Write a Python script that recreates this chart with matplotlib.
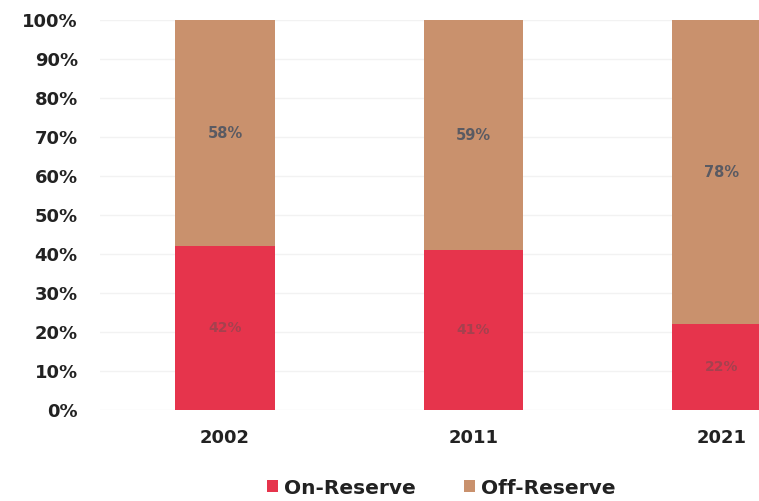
import matplotlib

matplotlib.use("Agg")
import matplotlib.pyplot as plt
import numpy as np

years = ["2002", "2011", "2021"]
on_reserve = [42, 41, 22]
off_reserve = [58, 59, 78]
y_ticks = [0, 10, 20, 30, 40, 50, 60, 70, 80, 90, 100]

RED = "#e6344c"
TAN = "#c9916d"
TEXT = "#222222"

plt.rcParams["font.family"] = ["DejaVu Sans"]

fig = plt.figure(figsize=(7.59, 5.01), dpi=100)
ax = fig.add_axes([100 / 759, 91 / 501, 659 / 759, 390 / 501])

x = np.arange(len(years))
width = 0.4
ax.bar(x, on_reserve, width=width, color=RED, label="On-Reserve", zorder=2)
ax.bar(x, off_reserve, width=width, bottom=on_reserve, color=TAN, label="Off-Reserve", zorder=2)

for i, (on, off) in enumerate(zip(on_reserve, off_reserve)):
    ax.text(i, on / 2, f"{on}%", ha="center", va="center", fontsize=10, fontweight="bold", color="#7a4a50", alpha=0.6, zorder=3)
    ax.text(i, on + off / 2, f"{off}%", ha="center", va="center", fontsize=10.5, fontweight="bold", color="#5a5a62", zorder=3)

ax.set_xlim(-0.503, 2.149)
ax.set_ylim(0, 100)
ax.set_yticks(y_ticks)
ax.set_yticklabels([f"{t}%" for t in y_ticks])
ax.set_xticks(x)
ax.set_xticklabels(years)
ax.tick_params(axis="both", length=0, labelsize=13, labelcolor=TEXT)
ax.tick_params(axis="y", pad=16)
ax.tick_params(axis="x", pad=14)
for label in ax.get_xticklabels() + ax.get_yticklabels():
    label.set_fontweight("bold")

ax.grid(axis="y", color="#f2f2f2", linewidth=1, zorder=0)
for spine in ax.spines.values():
    spine.set_visible(False)

fig.legend(
    loc="center",
    bbox_to_anchor=(441 / 759, 13 / 501),
    ncol=2,
    frameon=False,
    handlelength=0.55,
    handleheight=0.55,
    handletextpad=0.3,
    columnspacing=2.4,
    prop={"weight": "bold", "size": 14.5},
    labelcolor=TEXT,
)

fig.savefig("out.png", dpi=100)
